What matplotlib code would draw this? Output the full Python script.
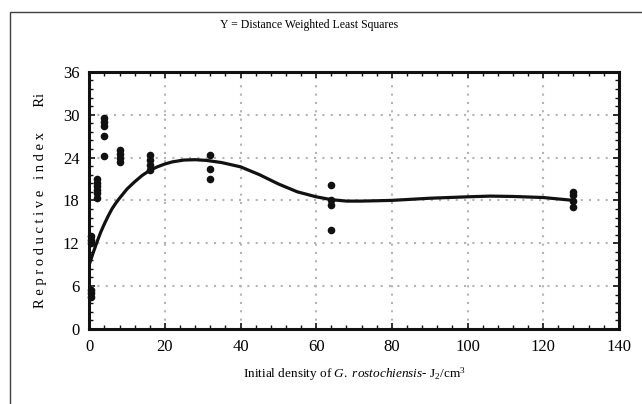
import numpy as np
import matplotlib
matplotlib.use("Agg")
import matplotlib.pyplot as plt
from matplotlib.patches import Rectangle
from matplotlib.ticker import MultipleLocator

# observed reproductive index per initial density (J2/cm3)
density = [0.5, 0.5, 0.5, 0.5, 0.5, 0.5,
           2, 2, 2, 2, 2, 2,
           4, 4, 4, 4, 4,
           8, 8, 8, 8,
           16, 16, 16, 16,
           32, 32, 32,
           64, 64, 64, 64,
           128, 128, 128, 128]
ri = [4.5, 5.0, 5.5, 12.0, 12.5, 13.0,
      18.3, 19.0, 19.5, 20.0, 20.5, 21.0,
      24.2, 27.0, 28.4, 29.0, 29.5,
      23.4, 24.0, 24.5, 25.0,
      22.3, 23.0, 23.7, 24.3,
      21.0, 22.4, 24.3,
      13.9, 17.3, 18.1, 20.1,
      17.1, 17.9, 18.7, 19.2]

# distance weighted least squares fit
fit_x = [0, 1, 2, 3, 4, 5, 6, 7, 8, 10, 12, 14, 16, 18, 20, 22, 25, 28, 31,
         35, 40, 45, 50, 55, 60, 64, 68, 72, 80, 90, 100, 106, 112, 120, 128]
fit_y = [9.0, 10.6, 12.1, 13.5, 14.7, 15.8, 16.8, 17.6, 18.3, 19.6, 20.6,
         21.5, 22.2, 22.7, 23.1, 23.4, 23.65, 23.7, 23.6, 23.3, 22.7, 21.6,
         20.3, 19.2, 18.5, 18.1, 17.9, 17.9, 18.0, 18.3, 18.5, 18.6, 18.55,
         18.4, 18.0]

x_ticks = [0, 20, 40, 60, 80, 100, 120, 140]
y_ticks = [0, 6, 12, 18, 24, 30, 36]

plt.rcParams['font.family'] = ['Liberation Serif', 'DejaVu Serif']
plt.rcParams['mathtext.fontset'] = 'custom'
plt.rcParams['mathtext.rm'] = 'Liberation Serif'
plt.rcParams['mathtext.it'] = 'Liberation Serif:italic'

fig = plt.figure(figsize=(6.42, 4.04), dpi=100)
ax = fig.add_axes([0.139, 0.186, 0.825, 0.636])

# outer frame of the graph page
fig.patches.append(Rectangle((0.0148, -0.1), 1.2, 1.07, transform=fig.transFigure,
                             fill=False, edgecolor='#404040', linewidth=1.0))

ax.grid(True, color='#b4b4b4', linestyle=(0, (1, 3)), linewidth=1.5)
ax.set_axisbelow(True)

ax.plot(fit_x, fit_y, color='#111111', linewidth=2.3, zorder=3)
ax.scatter(density, ri, s=20, color='#111111', zorder=4, clip_on=False)

ax.set_xlim(0, 140)
ax.set_ylim(0, 36)
ax.set_xticks(x_ticks)
ax.set_yticks(y_ticks)
ax.xaxis.set_minor_locator(MultipleLocator(4))
ax.yaxis.set_minor_locator(MultipleLocator(1.2))
ax.tick_params(which='both', direction='in', top=True, right=True,
               color='#111111', labelsize=12, pad=7)
ax.tick_params(which='major', length=4, width=1.2)
ax.tick_params(which='minor', length=3, width=1.0)
for s in ax.spines.values():
    s.set_linewidth(2.2)
    s.set_color('#111111')

ax.set_xlabel(r'Initial density of $\mathit{G.\ rostochiensis}$- J$_2$/cm$^3$',
              fontsize=9.5, labelpad=8)
ax.set_ylabel('R e p r o d u c t i v e   i n d e x       Ri', fontsize=10.5,
              labelpad=11)
fig.text(0.482, 0.938, 'Y = Distance Weighted Least Squares', ha='center',
         va='center', fontsize=8.5)

fig.savefig('out.png', dpi=100)
